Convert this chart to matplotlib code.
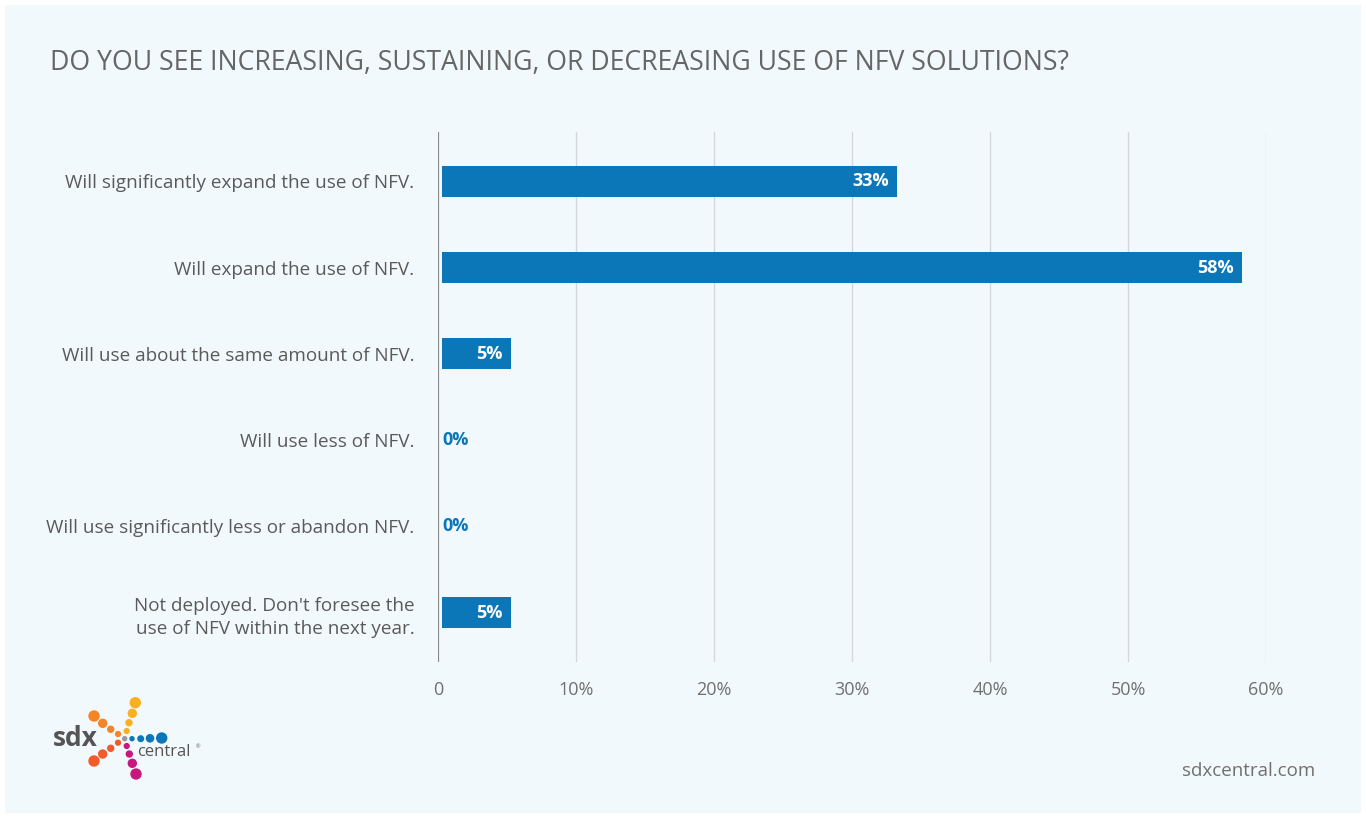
import matplotlib.pyplot as plt
from matplotlib.patches import Rectangle, Circle
from matplotlib.transforms import ScaledTranslation

# data
categories = [
    "Will significantly expand the use of NFV.",
    "Will expand the use of NFV.",
    "Will use about the same amount of NFV.",
    "Will use less of NFV.",
    "Will use significantly less or abandon NFV.",
    "Not deployed. Don't foresee the\nuse of NFV within the next year.",
]
values = [33, 58, 5, 0, 0, 5]
xticks = [0, 10, 20, 30, 40, 50, 60]
xtick_labels = ["0", "10%", "20%", "30%", "40%", "50%", "60%"]

title = "DO YOU SEE INCREASING, SUSTAINING, OR DECREASING USE OF NFV SOLUTIONS?"
bar_color = "#0B77B8"
bg = "#F2F9FC"
text_color = "#5a5a5a"

plt.rcParams['font.family'] = ['Open Sans', 'DejaVu Sans']

W, H = 1366, 818
fig = plt.figure(figsize=(W / 100, H / 100), dpi=100)
fig.patch.set_facecolor("white")
fig.patches.append(Rectangle((5 / W, 5 / H), 1356 / W, 808 / H, transform=fig.transFigure,
                             facecolor=bg, edgecolor="none", zorder=-10))

ax = fig.add_axes([438 / W, 1 - 662 / H, 828 / W, 530 / H])
ax.set_facecolor("none")
y = list(range(len(categories)))
bars = ax.barh(y, values, height=0.36, color=bar_color, zorder=3)
# bars sit a few pixels right of the zero line
shift = ax.transData + ScaledTranslation(4 / 100, 0, fig.dpi_scale_trans)
for b in bars:
    b.set_transform(shift)
ax.set_xlim(0, 60)
ax.set_ylim(len(categories) - 0.43, -0.57)

for yi, v in zip(y, values):
    if v > 0:
        ax.text(v - 0.6, yi, f"{v}%", color="white", fontsize=13, fontweight="bold",
                ha="right", va="center", zorder=4, transform=shift)
    else:
        ax.text(0.05, yi, f"{v}%", color=bar_color, fontsize=13, fontweight="bold",
                ha="left", va="center", zorder=4, transform=shift)

ax.set_xticks(xticks)
ax.set_xticklabels(xtick_labels, fontsize=13, color="#707070")
ax.set_yticks(y)
ax.set_yticklabels(categories, fontsize=13.6, color=text_color, linespacing=1.35)
ax.tick_params(axis="both", length=0)
ax.tick_params(axis="x", pad=14)
ax.tick_params(axis="y", pad=17)
for s in ax.spines.values():
    s.set_visible(False)
ax.grid(axis="x", color="#d4d7d9", linewidth=1, zorder=0)
ax.axvline(0, color="#8a8a8a", linewidth=1.5, zorder=2)

fig.text(50 / W, 1 - 63 / H, title, fontsize=19.2, color="#666666", ha="left", va="center")
fig.text(1315 / W, 1 - 771 / H, "sdxcentral.com", fontsize=13.5, color="#707070",
         ha="right", va="center")

# logo
lax = fig.add_axes([0, 0, 1, 1])
lax.set_xlim(0, W)
lax.set_ylim(H, 0)
lax.axis("off")
dots = [
    (135.3, 702.7, 5, "#F9B122"), (132.3, 713.3, 4, "#F9B122"), (129, 722.7, 3, "#F9B122"), (126.7, 731, 2.4, "#F9B122"),
    (94, 716, 5, "#F58426"), (102.7, 723.3, 4, "#F58426"), (110.7, 729.3, 3, "#F58426"), (118, 734, 2.4, "#F58426"),
    (124.7, 738.7, 2, "#9a9a9a"),
    (132, 738.7, 2, "#0B77B8"), (140.7, 738.7, 2.8, "#0B77B8"), (150, 738.3, 3.6, "#0B77B8"), (161.7, 738, 5, "#0B77B8"),
    (118, 742.7, 2.4, "#F15A2B"), (110.7, 748.3, 3, "#F15A2B"), (102.7, 754, 4, "#F15A2B"), (94, 761, 5, "#F15A2B"),
    (126.7, 746, 2.4, "#C8187E"), (129.3, 754, 3, "#C8187E"), (132.3, 763.3, 4, "#C8187E"), (136, 774, 5, "#C8187E"),
]
for cx, cy, r, c in dots:
    lax.add_patch(Circle((cx, cy), r, color=c))
lax.text(53, 746, "sdx", fontsize=19, fontweight="bold", color="#555555", ha="left", va="baseline")
lax.text(137, 756, "central", fontsize=12, color="#555555", ha="left", va="baseline")
lax.text(196, 748, "®", fontsize=4, color="#555555", ha="left", va="baseline")

fig.savefig("out.png", dpi=100, facecolor=fig.get_facecolor())
